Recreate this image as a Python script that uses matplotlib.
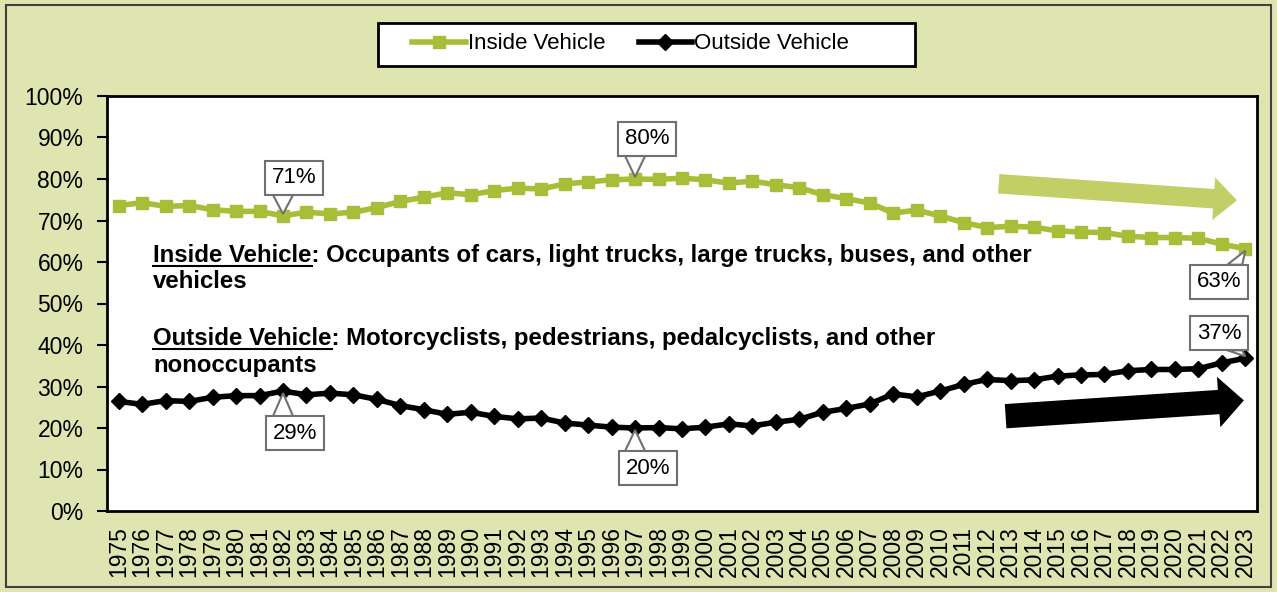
import matplotlib
matplotlib.use("Agg")
import matplotlib.pyplot as plt
from matplotlib.patches import Rectangle, FancyArrowPatch, Polygon
from matplotlib.lines import Line2D
from matplotlib.transforms import IdentityTransform
import numpy as np

plt.rcParams["font.family"] = ["Liberation Sans", "DejaVu Sans"]

# Share of traffic fatalities, 1975-2023 (%)
years = list(range(1975, 2024))
inside = [73.6, 74.3, 73.4, 73.6, 72.6, 72.2, 72.2, 71.1, 72.0, 71.6,
          72.0, 73.1, 74.6, 75.6, 76.7, 76.2, 77.2, 77.8, 77.6, 78.8,
          79.3, 79.8, 80.0, 79.9, 80.2, 79.8, 79.0, 79.5, 78.6, 77.9,
          76.2, 75.3, 74.2, 71.8, 72.5, 71.1, 69.5, 68.3, 68.6, 68.4,
          67.5, 67.2, 67.1, 66.2, 65.9, 65.9, 65.7, 64.3, 63.2]
outside = [26.4, 25.7, 26.6, 26.4, 27.4, 27.8, 27.8, 28.9, 28.0, 28.4,
           28.0, 26.9, 25.4, 24.4, 23.3, 23.8, 22.8, 22.2, 22.4, 21.2,
           20.7, 20.2, 20.0, 20.1, 19.8, 20.2, 21.0, 20.5, 21.4, 22.1,
           23.8, 24.7, 25.8, 28.2, 27.5, 28.9, 30.5, 31.7, 31.4, 31.6,
           32.5, 32.8, 32.9, 33.8, 34.1, 34.1, 34.3, 35.7, 36.8]

# callouts: year, text, box offset (px), pointer base x range relative to point
callouts_in = [(1982, "71%", (11, 38), (-10, 10)),
               (1997, "80%", (12, 40), (-10, 10)),
               (2023, "63%", (-26, -33), (-18, -3))]
callouts_out = [(1982, "29%", (12, -42), (-10, 10)),
                (1997, "20%", (13, -40), (-10, 10)),
                (2023, "37%", (-26, 25), (-18, -3))]

green = "#A9BD38"
bg = "#DFE5B0"
gray = "#707070"

fig = plt.figure(figsize=(12.77, 5.92), dpi=100, facecolor=bg)
ax = fig.add_axes([107 / 1277, 1 - 511 / 592, 1150 / 1277, 415 / 592])
ax.set_facecolor("white")

x = np.arange(len(years))
ax.plot(x, inside, color=green, lw=4, marker="s", ms=9, mec=green, label="Inside Vehicle")
ax.plot(x, outside, color="black", lw=4, marker="D", ms=8, label="Outside Vehicle")

ax.set_xlim(-0.5, len(years) - 0.5)
ax.set_ylim(0, 100)
ax.set_yticks(range(0, 101, 10))
ax.set_yticklabels([f"{v}%" for v in range(0, 101, 10)], fontsize=16.5)
ax.set_xticks(x)
ax.set_xticklabels([str(y) for y in years], rotation=90, fontsize=16.5)
ax.tick_params(axis="y", length=7, width=1.5, pad=10)
ax.tick_params(axis="x", length=0, pad=11)
for s in ax.spines.values():
    s.set_linewidth(2)

box = dict(boxstyle="square,pad=0.3", fc="white", ec=gray, lw=1.5)
for series, calls in ((inside, callouts_in), (outside, callouts_out)):
    for yr, txt, off, base in calls:
        i = years.index(yr)
        ax.annotate(txt, xy=(i, series[i]), xytext=off, textcoords="offset pixels",
                    ha="center", va="center", fontsize=16, bbox=box, zorder=6)
        px, py = ax.transData.transform((i, series[i]))
        edge = py + off[1] - 17 if off[1] > 0 else py + off[1] + 17
        ax.add_patch(Polygon([(px, py + (2 if off[1] > 0 else -2)),
                              (px + base[0], edge), (px + base[1], edge)],
                             closed=True, fc="white", ec=gray, lw=1.5,
                             transform=IdentityTransform(), zorder=5))

# description text with underlined headings
def note(head, rest, line2, y1, y2):
    ax.text(0.04, y1, head + rest, transform=ax.transAxes, fontsize=17.3,
            fontweight="bold", va="baseline", ha="left")
    ax.text(0.04, y2, line2, transform=ax.transAxes, fontsize=17.3,
            fontweight="bold", va="baseline", ha="left")
    h = ax.text(0.04, y1, head, transform=ax.transAxes, fontsize=17.3,
                fontweight="bold", va="baseline", ha="left", alpha=0)
    bb = h.get_window_extent(renderer=fig.canvas.get_renderer())
    _, by = ax.transAxes.transform((0.04, y1))
    fig.add_artist(Line2D([bb.x0, bb.x1], [by - 4, by - 4], color="black", lw=1.5,
                          transform=None))

note("Inside Vehicle", ": Occupants of cars, light trucks, large trucks, buses, and other",
     "vehicles", 0.600, 0.537)
note("Outside Vehicle", ": Motorcyclists, pedestrians, pedalcyclists, and other",
     "nonoccupants", 0.400, 0.335)

# trend arrows
ax.add_patch(FancyArrowPatch((0.773, 0.789), (0.985, 0.748), transform=ax.transAxes,
                             arrowstyle="simple,head_width=2.2,head_length=1.2,tail_width=1.0",
                             mutation_scale=14, color="#C2CE66", lw=0, zorder=4))
ax.add_patch(FancyArrowPatch((0.779, 0.228), (0.991, 0.267), transform=ax.transAxes,
                             arrowstyle="simple,head_width=2.6,head_length=1.3,tail_width=1.25",
                             mutation_scale=14, color="black", lw=0, zorder=4))

# legend
fig.add_artist(Rectangle((378 / 1277, 1 - 66 / 592), 537 / 1277, 43 / 592,
                         transform=fig.transFigure, fc="white", ec="black", lw=2))
fig.legend(loc="center", bbox_to_anchor=(0.494, 0.926), ncol=2, frameon=False,
           fontsize=16, handlelength=2.4, handletextpad=0.1, columnspacing=1.5)

# outer border
fig.add_artist(Rectangle((0.005, 0.008), 0.99, 0.984, transform=fig.transFigure,
                         fill=False, ec="#404040", lw=1.5))

fig.savefig("out.png", dpi=100, facecolor=bg)
